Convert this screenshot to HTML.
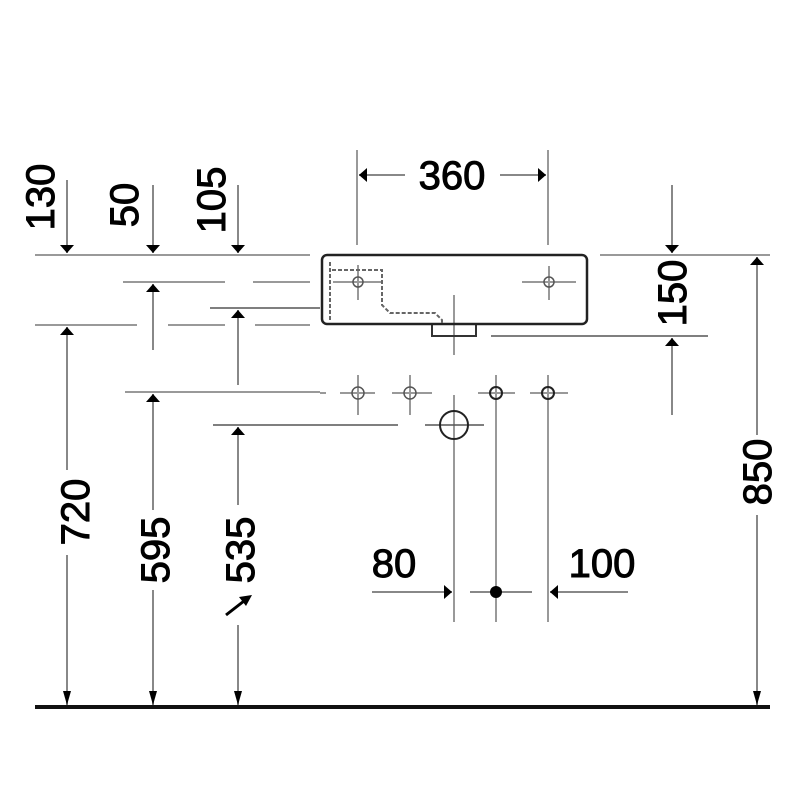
<!DOCTYPE html>
<html><head><meta charset="utf-8"><style>html,body{margin:0;padding:0;background:#fff}svg{display:block}</style></head>
<body>
<svg width="800" height="800" viewBox="0 0 800 800" xmlns="http://www.w3.org/2000/svg">
<defs>
<marker id="b" viewBox="0 0 10 10" refX="10" refY="5" markerWidth="8" markerHeight="14" orient="auto" markerUnits="userSpaceOnUse" preserveAspectRatio="none"><path d="M0,0 L10,5 L0,10 z" fill="#000"/></marker>
</defs>
<g stroke="#999" stroke-width="2" fill="none">
<line x1="35" y1="255" x2="310" y2="255"/>
<line x1="123" y1="282" x2="225" y2="282"/><line x1="253" y1="282" x2="310" y2="282"/>
<line x1="35" y1="325" x2="137" y2="325"/><line x1="168" y1="325" x2="225" y2="325"/><line x1="255" y1="325" x2="310" y2="325"/>
<line x1="125" y1="392" x2="320" y2="392"/><line x1="320" y1="393" x2="326" y2="393"/>
<line x1="600" y1="255" x2="770" y2="255"/>
<line x1="357" y1="150" x2="357" y2="245"/><line x1="548" y1="150" x2="548" y2="245"/>
<line x1="454" y1="455" x2="454" y2="622"/><line x1="496" y1="405" x2="496" y2="622"/><line x1="548" y1="405" x2="548" y2="622"/>
<line x1="333" y1="282" x2="383" y2="282"/><line x1="358" y1="265" x2="358" y2="300"/>
<line x1="522" y1="282" x2="576" y2="282"/><line x1="549" y1="266" x2="549" y2="300"/>
<line x1="340" y1="393" x2="375" y2="393"/><line x1="358" y1="375" x2="358" y2="415"/>
<line x1="392" y1="393" x2="432" y2="393"/><line x1="410" y1="375" x2="410" y2="415"/>
<line x1="478" y1="393" x2="515" y2="393"/><line x1="496" y1="375" x2="496" y2="415"/>
<line x1="530" y1="393" x2="568" y2="393"/><line x1="548" y1="375" x2="548" y2="415"/>
<line x1="454" y1="295" x2="454" y2="355"/>
<line x1="454" y1="395" x2="454" y2="455"/>
</g>
<g stroke="#555" stroke-width="1.5" fill="none">
<line x1="210" y1="308" x2="320" y2="308"/>
<line x1="213" y1="425" x2="398" y2="425"/>
<line x1="491" y1="336" x2="708" y2="336"/>
<line x1="425" y1="425" x2="484" y2="425"/>
<circle cx="358" cy="282" r="5"/><circle cx="549" cy="282" r="5"/>
<circle cx="358" cy="393" r="6"/><circle cx="410" cy="393" r="6"/>
<circle cx="496" cy="393" r="6" stroke="#222" stroke-width="2"/><circle cx="548" cy="393" r="6" stroke="#222" stroke-width="2"/>
<circle cx="454" cy="425" r="14" stroke="#222" stroke-width="2"/>
<path d="M332,270 H382 V305 L390,313 H435 L442,320 V324" stroke="#666" stroke-width="2" stroke-dasharray="4,2"/>
<path d="M330,262 V322" stroke="#666" stroke-width="2" stroke-dasharray="4,2"/>
<path d="M432,324 V336 H476 V324" stroke="#333" stroke-width="2"/>
</g>
<rect x="322" y="255" width="265" height="69" rx="5" fill="none" stroke="#222" stroke-width="2.5"/>
<g stroke="#888" stroke-width="2" fill="none">
<line x1="67" y1="180" x2="67" y2="253" marker-end="url(#b)"/>
<line x1="153" y1="185" x2="153" y2="253" marker-end="url(#b)"/>
<line x1="238" y1="185" x2="238" y2="253" marker-end="url(#b)"/>
<line x1="153" y1="350" x2="153" y2="284" marker-end="url(#b)"/>
<line x1="238" y1="385" x2="238" y2="310" marker-end="url(#b)"/>
<line x1="67" y1="470" x2="67" y2="327" marker-end="url(#b)"/>
<line x1="67" y1="555" x2="67" y2="705"/>
<line x1="153" y1="510" x2="153" y2="394" marker-end="url(#b)"/>
<line x1="153" y1="590" x2="153" y2="705"/>
<line x1="238" y1="505" x2="238" y2="427" marker-end="url(#b)"/>
<line x1="238" y1="625" x2="238" y2="705"/>
<line x1="672" y1="185" x2="672" y2="253" marker-end="url(#b)"/>
<line x1="672" y1="415" x2="672" y2="338" marker-end="url(#b)"/>
<line x1="757" y1="435" x2="757" y2="257" marker-end="url(#b)"/>
<line x1="757" y1="515" x2="757" y2="705"/>
<line x1="405" y1="175" x2="359" y2="175" marker-end="url(#b)"/>
<line x1="500" y1="175" x2="546" y2="175" marker-end="url(#b)"/>
<line x1="372" y1="592" x2="452" y2="592" marker-end="url(#b)"/>
<line x1="470" y1="592" x2="532" y2="592"/>
<line x1="628" y1="592" x2="550" y2="592" marker-end="url(#b)"/>
</g>
<g fill="#000">
<path d="M67,705 l-4,-14 h8 z"/><path d="M153,705 l-4,-14 h8 z"/><path d="M238,705 l-4,-14 h8 z"/><path d="M757,705 l-4,-14 h8 z"/>
<circle cx="496" cy="592" r="6"/>
</g>
<line x1="226" y1="615" x2="244" y2="601" stroke="#000" stroke-width="3"/>
<path d="M252,595 l-13,2 l7,9 z" fill="#000"/>
<line x1="35" y1="707" x2="770" y2="707" stroke="#111" stroke-width="4"/>
<g font-family="Liberation Sans, sans-serif" font-size="40" fill="#000" stroke="#000" stroke-width="1" text-anchor="middle">
<text x="452" y="189">360</text>
<text x="394" y="577">80</text>
<text x="602" y="577">100</text>
<text transform="translate(54,197) rotate(-90)">130</text>
<text transform="translate(138,205) rotate(-90)">50</text>
<text transform="translate(225,200) rotate(-90)">105</text>
<text transform="translate(89,512) rotate(-90)">720</text>
<text transform="translate(169,550) rotate(-90)">595</text>
<text transform="translate(254,550) rotate(-90)">535</text>
<text transform="translate(686,293) rotate(-90)">150</text>
<text transform="translate(771,472) rotate(-90)">850</text>
</g>
</svg>
</body></html>
